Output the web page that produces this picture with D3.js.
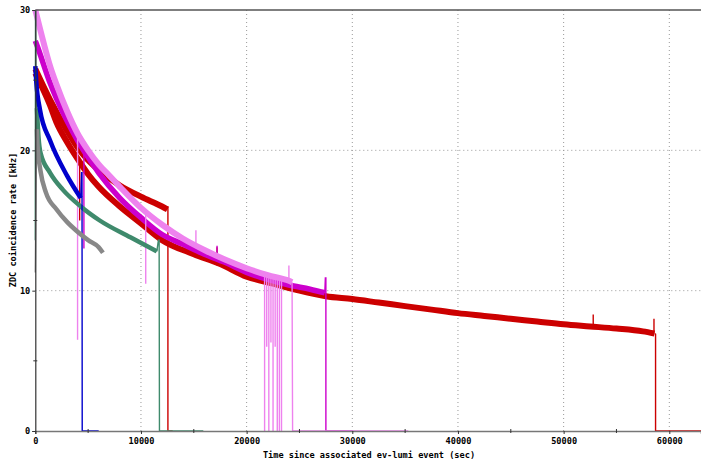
<!DOCTYPE html>
<html>
<head>
<meta charset="utf-8">
<title>ZDC coincidence rate</title>
<style>
body{ margin:0; background:#fff; }
.tick text{ font-family:"DejaVu Sans Mono", monospace; font-weight:bold; font-size:8.6px; fill:#000; }
.title{ font-family:"DejaVu Sans Mono", monospace; font-weight:bold; font-size:8.6px; fill:#000; }
.grid line{ stroke:#999; stroke-dasharray:1,3; }
.band{ fill:none; stroke-linejoin:round; stroke-linecap:butt; }
.thin{ fill:none; stroke-width:1.4px; }
</style>
<script src="https://cdn.jsdelivr.net/npm/d3@7"></script>
</head>
<body>
<svg id="chart" width="701" height="460"></svg>
<script>
// time (sec) , rate (kHz)
var redLong = [[0,25.5],[1400,23.2],[2000,22.0],[3000,20.6],[4000,19.4],[5000,18.3],[6000,17.4],[8000,16.0],[10000,14.8],
  [12000,13.6],[15000,12.6],[17500,11.9],[20000,11.0],[22500,10.5],[25000,10.0],[27500,9.6],[30000,9.4],[32500,9.15],
  [35000,8.9],[37500,8.65],[40000,8.4],[42500,8.2],[45000,8.0],[47500,7.8],[50000,7.6],[52500,7.45],[55000,7.3],
  [57500,7.1],[58600,6.95]];
var redLongTail = [[58600,6.95],[58700,6.9],[58700,0],[63000,0]];
var redLongSpikes = [[4200,19.2,15.0],[17200,11.8,13.1],[52800,7.4,8.3],[58550,7.0,8.0]];

var redUp = [[0,25.8],[1400,23.6],[3000,21.4],[4000,20.2],[5000,19.3],[6000,18.6],
  [8000,17.5],[10000,16.7],[12000,16.0],[12500,15.8]];
var redUpTail = [[12500,15.8],[12550,16.0],[12550,0],[13000,0]];
var redUpSpikes = [];

var magenta = [[0,27.8],[200,27.4],[1400,24.8],[2000,23.7],[3000,22.1],[4000,20.7],[5000,19.5],[6000,18.4],
  [8000,16.6],[10000,15.2],[12000,14.0],[14000,13.3],[16000,12.6],[18000,12.0],[20000,11.3],[22000,10.8],
  [24000,10.4],[26000,10.1],[27400,9.85]];
var magentaTail = [[27400,9.85],[27450,10.9],[27500,10.9],[27500,0],[30000,0]];
var magentaSpikes = [[4600,20.0,13.0],[17200,12.4,13.2]];

var pink = [[0,30.0],[500,28.5],[1400,26.0],[2000,24.7],[3000,22.8],[4000,21.2],[5000,20.0],
  [6000,19.0],[7000,18.2],[8000,17.4],[10000,15.9],[12000,14.7],[14000,13.7],[16000,12.9],[18000,12.2],[20000,11.6],
  [22000,11.1],[24000,10.7],[24300,10.6]];
var pinkTail = [[24300,10.6],[24350,0],[35300,0]];
var pinkSpikes = [[4000,21.2,6.5],[10450,15.6,10.5],[15200,13.1,14.3],[24000,10.7,11.8],
  [21700,11.2,0],[21900,11.2,6.0],[22100,11.1,0],[22300,11.1,6.3],[22500,11.0,0],[22700,11.0,6.0],
  [22900,11.0,0],[23100,10.9,0],[23300,10.9,0]];

var blue = [[0,26.0],[100,24.8],[440,22.9],[1400,20.7],[3000,18.2],[4300,16.6]];
var blueTail = [[4300,16.6],[4380,18.4],[4420,18.4],[4440,0],[6000,0]];
var blueSpikes = [];

var green = [[150,23.0],[300,21.0],[500,19.8],[1400,18.4],[2600,17.2],[4300,16.0],[6100,15.0],
  [9000,13.8],[11500,12.8]];
var greenHead = [[0,13.6],[20,30],[60,24.5],[150,23.0]];
var greenTail = [[11500,12.8],[11650,13.6],[11720,13.6],[11750,0],[15900,0]];
var greenSpikes = [];

var gray = [[150,21.5],[200,20.5],[500,18.5],[1000,17.0],[2000,15.8],[3000,14.9],[4000,14.2],[5000,13.6],
  [6000,13.1],[6400,12.7]];
var grayHead = [[0,11.3],[100,20.0],[150,21.5]];

var xTicks = [0,10000,20000,30000,40000,50000,60000];
var xMinor = [5000,15000,25000,35000,45000,55000];
var yTicks = [0,10,20,30];
var yMinor = [5,15,25];

var svg = d3.select('#chart');
var margin = {left:35.3, right:0, top:10, bottom:29};
var W = 701, H = 460;
var x = d3.scaleLinear().domain([0,63000]).range([margin.left, W - margin.right]);
var y = d3.scaleLinear().domain([0,30]).range([H - margin.bottom, margin.top]);

// grid
var grid = svg.append('g').attr('class','grid');
grid.selectAll('.gx').data(xTicks.slice(1)).enter().append('line')
  .attr('x1', d => x(d)).attr('x2', d => x(d)).attr('y1', y(0)).attr('y2', y(30));
grid.selectAll('.gy').data([10,20]).enter().append('line')
  .attr('x1', x(0)).attr('x2', W).attr('y1', d => y(d)).attr('y2', d => y(d));

var line = d3.line().x(d => x(d[0])).y(d => y(d[1]));

var series = [
  {c:'#cc0000', band:redLong, w:6, tail:redLongTail, spikes:redLongSpikes},
  {c:'#cc0000', band:redUp, w:6, tail:redUpTail, spikes:redUpSpikes},
  {c:'#cc00cc', band:magenta, w:5.5, tail:magentaTail, spikes:magentaSpikes},
  {c:'#ee82ee', band:pink, w:6, tail:pinkTail, spikes:pinkSpikes},
  {c:'#3f8a6c', band:green, w:4.5, head:greenHead, tail:greenTail, spikes:greenSpikes},
  {c:'#0000cc', band:blue, w:4.5, tail:blueTail, spikes:blueSpikes},
  {c:'#888888', band:gray, w:4.5, head:grayHead, tail:[], spikes:[]}
];

var plot = svg.append('g');
series.forEach(function(s){
  if (s.head) plot.append('path').datum(s.head).attr('class','thin').attr('stroke', s.c).attr('d', line);
  if (s.tail.length) plot.append('path').datum(s.tail).attr('class','thin').attr('stroke', s.c).attr('d', line);
  plot.selectAll(null).data(s.spikes).enter().append('line')
    .attr('stroke', s.c).attr('stroke-width', 1.4)
    .attr('x1', d => x(d[0])).attr('x2', d => x(d[0]))
    .attr('y1', d => y(d[1])).attr('y2', d => y(d[2]));
  plot.append('path').datum(s.band).attr('class','band')
    .attr('stroke', s.c).attr('stroke-width', s.w).attr('d', line.curve(d3.curveMonotoneX));
  line.curve(d3.curveLinear);
});

// axes
var xAxis = svg.append('g').attr('transform', 'translate(0,' + y(0) + ')')
  .call(d3.axisBottom(x).tickValues(xTicks).tickSize(3).tickPadding(4).tickFormat(d3.format('d')));
xAxis.select('.domain').attr('stroke', '#777').attr('stroke-width', 1.5);
xAxis.selectAll('.tick line').attr('stroke', '#333');
svg.append('g').selectAll('line').data(xMinor).enter().append('line')
  .attr('x1', d => x(d)).attr('x2', d => x(d)).attr('y1', y(0) - 2).attr('y2', y(0) + 2).attr('stroke', '#333');

var yAxis = svg.append('g').attr('transform', 'translate(' + x(0) + ',0)')
  .call(d3.axisLeft(y).tickValues(yTicks).tickSize(3).tickPadding(2));
yAxis.select('.domain').attr('stroke', '#333').attr('stroke-width', 1.2);
yAxis.selectAll('.tick line').attr('stroke', '#333');
svg.append('g').selectAll('line').data(yMinor).enter().append('line')
  .attr('x1', x(0) - 2).attr('x2', x(0) + 2).attr('y1', d => y(d)).attr('y2', d => y(d)).attr('stroke', '#333');

// top frame
svg.append('line').attr('x1', x(0)).attr('x2', W).attr('y1', y(30)).attr('y2', y(30))
  .attr('stroke', '#555').attr('stroke-width', 1.5);

svg.append('text').attr('class','title').attr('x', 369).attr('y', 458).attr('text-anchor','middle')
  .text('Time since associated ev-lumi event (sec)');
svg.append('text').attr('class','title').attr('text-anchor','middle')
  .attr('transform', 'translate(16,220) rotate(-90)')
  .text('ZDC coincidence rate [kHz]');
</script>
</body>
</html>
